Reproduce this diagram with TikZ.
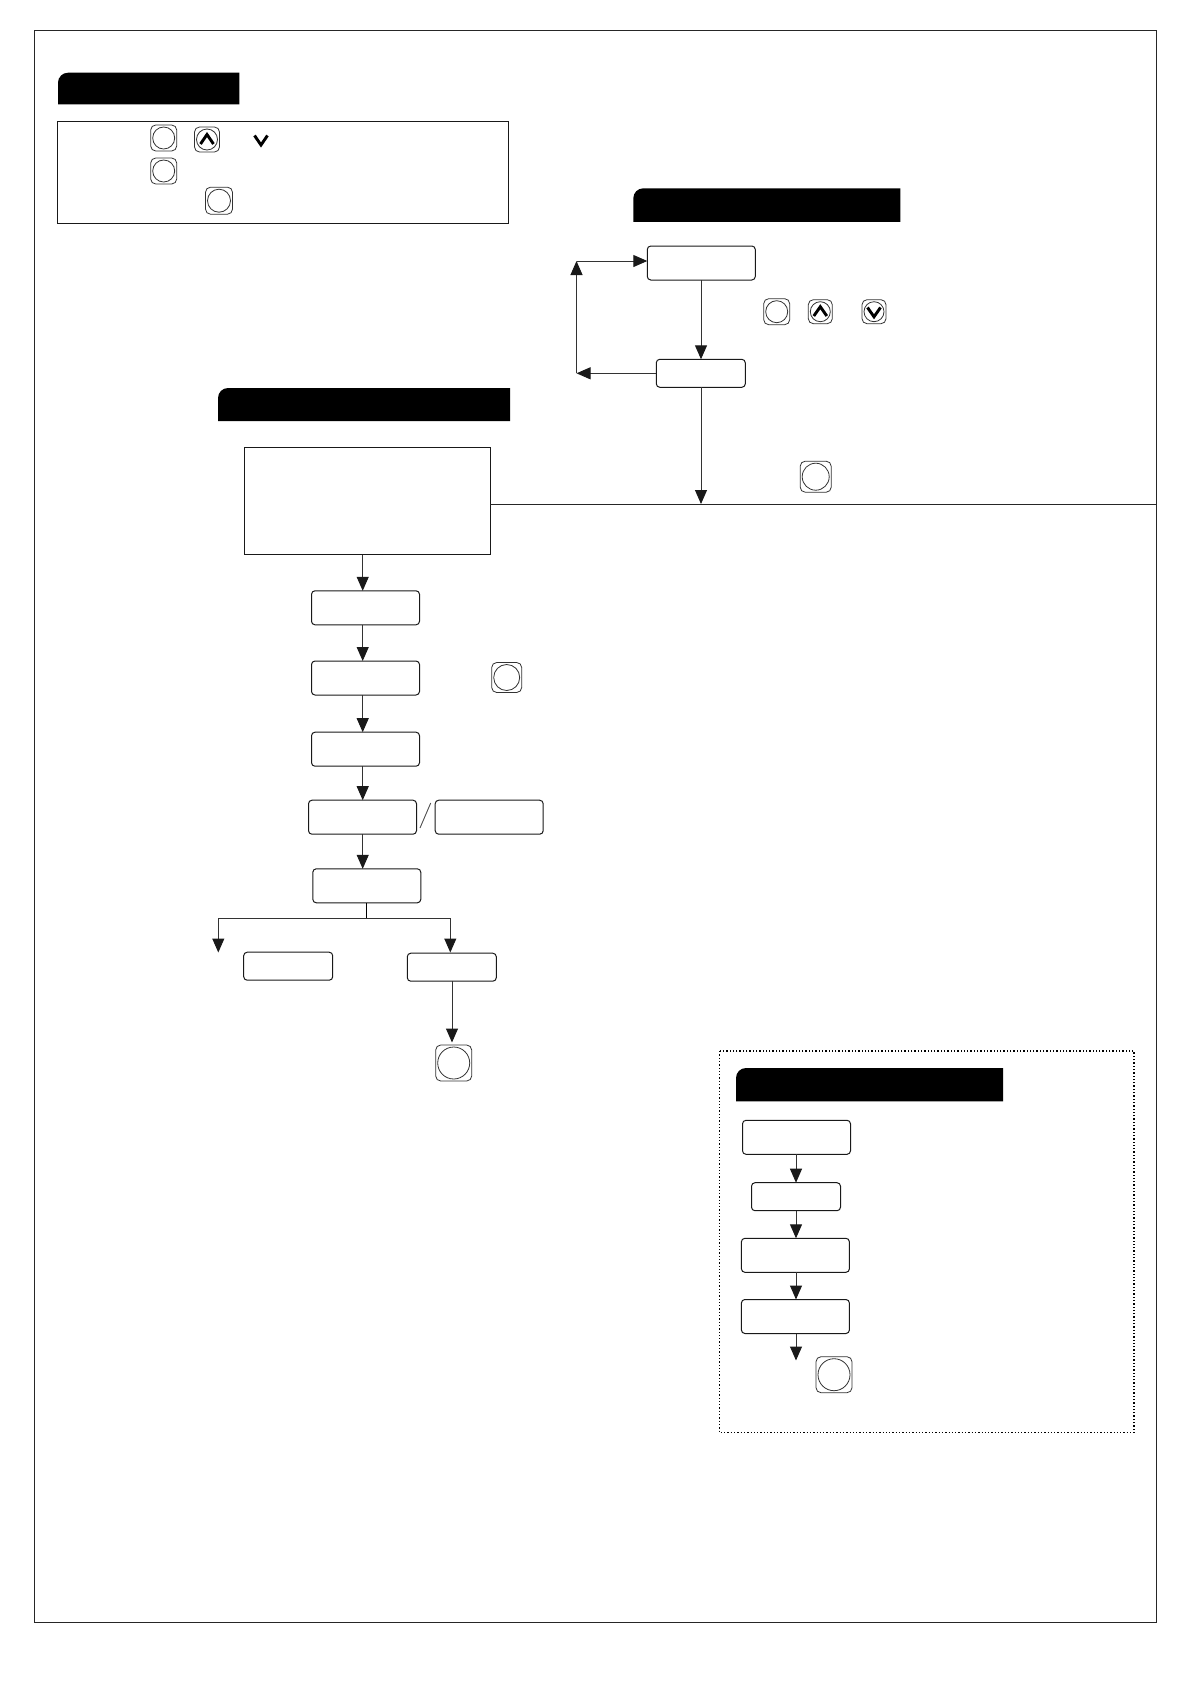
\documentclass[tikz,border=0pt]{standalone}
\usetikzlibrary{arrows.meta}
\tikzset{
    box/.style={draw=black!90,line width=1pt,rounded corners=3.5pt,outer sep=0pt,inner sep=0pt,minimum width=108pt,minimum height=34pt},
    smallbox/.style={box,minimum width=89pt,minimum height=28pt},
    panel/.style={draw=black!90,line width=1pt,outer sep=0pt,inner sep=0pt},
    keybox/.style={draw=black!80,line width=.8pt,rounded corners=5pt,outer sep=0pt,inner sep=0pt},
    keydisc/.style={draw=black!80,line width=.8pt,circle,outer sep=0pt,inner sep=0pt},
    flow/.style={draw=black!80,line width=1pt,-{Triangle[length=14pt,width=12pt,color=black!90]}},
    chevron/.style={line width=2.9pt,line cap=butt,line join=miter}
}
\begin{document}
\begin{tikzpicture}[x=1pt,y=-1pt]
    \useasboundingbox (0,0) rectangle (1191,1684);

    % Cornice
    \draw[black!85,line width=1pt] (34,30) rectangle (1156,1622);
    \draw[line width=1.3pt,dotted] (719.5,1051) rectangle (1134,1432.5);

    % Bande nere
    \foreach \xa/\ya/\xb/\yb in {58/72.7/239.3/104.3, 633.3/188.3/900.3/221.8, 218/388/510/421, 736/1068/1003/1101.3}
        \fill (\xa,\yb) [rounded corners=10pt] -- (\xa,\ya) [sharp corners] -- (\xb,\ya) -- (\xb,\yb) -- cycle;

    % Riquadri
    \node[panel,minimum width=451pt,minimum height=102pt] (legend) at (282.8,172.3) {};
    \node[panel,minimum width=246pt,minimum height=107pt] (start) at (367,501) {};

    % Ciclo in alto
    \node[box] (boxa) at (701.3,263) {};
    \node[smallbox] (boxb) at (700.8,373.3) {};
    \coordinate (lefttop) at (576.5,261);
    \coordinate (leftbot) at (576.5,373.3);
    \coordinate (bus) at (701,504);
    \draw[flow] (boxa.south -| bus) -- (boxb.north -| bus);
    \draw[flow] (boxb.west) -- (leftbot);
    \draw[flow] (leftbot) -- (lefttop);
    \draw[flow] (lefttop) -- (lefttop -| boxa.west);
    \draw[flow] (boxb.south -| bus) -- (bus);
    \draw[black!85,line width=1pt] (start.east |- bus) -- (1156,504);

    % Colonna centrale
    \coordinate (stem) at (362.7,0);
    \node[box] (one) at (365.5,607.8) {};
    \node[box] (two) at (365.5,678) {};
    \node[box] (three) at (365.5,749.2) {};
    \node[box] (four) at (362.5,817.2) {};
    \node[box] (alt) at (489.2,817.2) {};
    \node[box] (five) at (366.8,885.8) {};
    \node[smallbox] (leftbox) at (288.2,966.2) {};
    \node[smallbox] (rightbox) at (451.8,967.2) {};
    \coordinate (endkey) at (452,1042.5);
    \coordinate (freeend) at (218.3,952.5);
    \coordinate (split) at (366.3,918.7);
    \draw[flow] (stem |- start.south) -- (stem |- one.north);
    \draw[flow] (stem |- one.south) -- (stem |- two.north);
    \draw[flow] (stem |- two.south) -- (stem |- three.north);
    \draw[flow] (stem |- three.south) -- (stem |- four.north);
    \draw[flow] (stem |- four.south) -- (stem |- five.north);
    \draw[black,line width=1pt] (split |- five.south) -- (split);
    \draw[flow] (split) -| (freeend);
    \draw[flow] (split) -| (450.3,952.5);
    \draw[flow] (rightbox.south -| endkey) -- (endkey);
    \draw[black!70,line width=.9pt] (420,828) -- (430.7,803);

    % Riquadro punteggiato
    \node[box] (stepa) at (796.5,1137.3) {};
    \node[smallbox] (stepb) at (796,1196.7) {};
    \node[box] (stepc) at (795.4,1255.3) {};
    \node[box] (stepd) at (795.4,1316.5) {};
    \coordinate (stepend) at (796,1360.5);
    \draw[flow] (stepa.south -| stepend) -- (stepb.north -| stepend);
    \draw[flow] (stepb.south -| stepend) -- (stepc.north -| stepend);
    \draw[flow] (stepc.south -| stepend) -- (stepd.north -| stepend);
    \draw[flow] (stepd.south -| stepend) -- (stepend);

    % Tasti
    \foreach \n/\x/\y/\s in {a/163.7/138/26, b/207/139.5/25, c/163.7/171/26, d/219/200.7/27,
            e/776.7/311.7/26, f/820.3/311.7/24, g/874/311.7/24, h/815.7/476.7/31,
            i/506.7/677.5/30, j/453.7/1063/36, k/834/1374.7/36} {
        \node[keybox,minimum size=\s pt] (key\n) at (\x,\y) {};
        \node[keydisc,minimum size=\s pt-4pt] at (key\n) {};
    }

    % Frecce dei tasti
    \draw[chevron] (200.5,144) -- (207,134.5) -- (213.5,144);
    \draw[chevron] (813.8,316) -- (820.3,306.7) -- (826.8,316);
    \draw[chevron] (867.5,307.5) -- (874,316.8) -- (880.5,307.5);
    \draw[chevron] (254.5,135.5) -- (261,145) -- (267.5,135.5);
\end{tikzpicture}
\end{document}
